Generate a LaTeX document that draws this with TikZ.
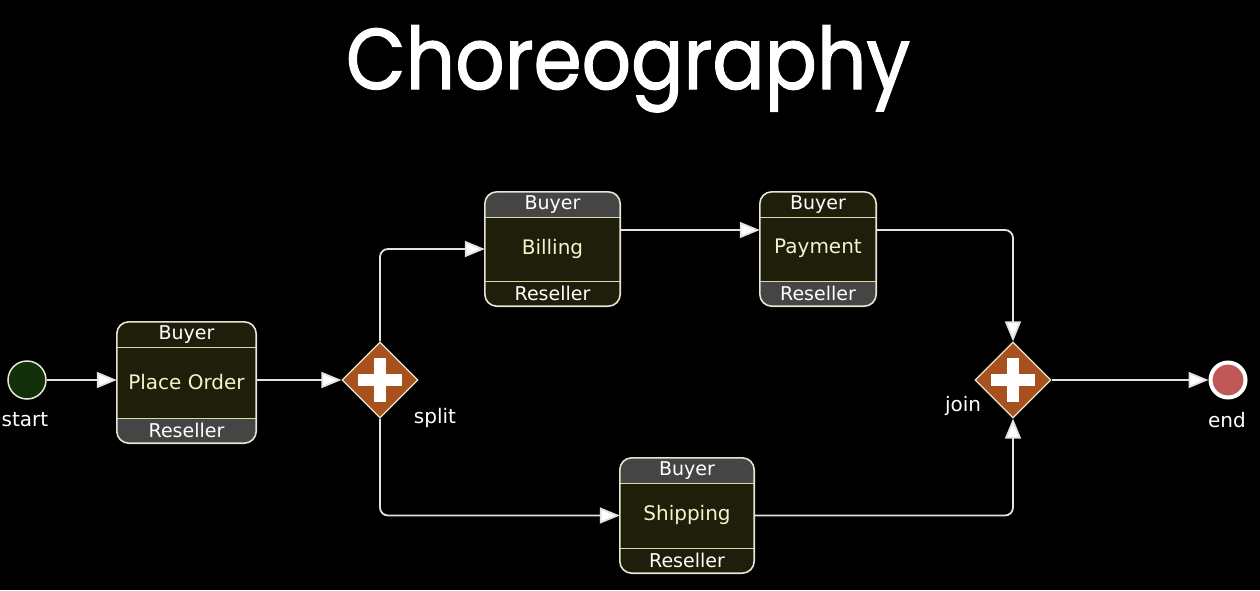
\documentclass[tikz,border=0pt]{standalone}
\usepackage{fontspec}
\setmainfont{DejaVu Sans}
\newfontfamily\titlefont{Poppins}[FakeBold=1.5]
\usetikzlibrary{arrows.meta,shapes.geometric}
\definecolor{olive}{HTML}{1E1E0A}
\definecolor{band}{HTML}{454545}
\definecolor{rim}{HTML}{E6E6D2}
\definecolor{divider}{HTML}{D8D8A8}
\definecolor{cream}{HTML}{F4F4CC}
\definecolor{gate}{HTML}{A8501E}
\definecolor{startfill}{HTML}{12300A}
\definecolor{endfill}{HTML}{C05858}
\definecolor{wire}{HTML}{E2E2E2}
\tikzset{
  taskbox/.style={draw=none, inner sep=0pt, rectangle},
  rimline/.style={draw=rim, line width=1.6pt},
  divline/.style={draw=divider, line width=1.3pt},
  partlabel/.style={font=\fontsize{19}{21}\selectfont, text=white, inner sep=0pt},
  tasklabel/.style={font=\fontsize{20}{22}\selectfont, text=cream, inner sep=0pt},
  evlabel/.style={font=\fontsize{20}{22}\selectfont, text=white, inner sep=0pt},
  gateway/.style={diamond, shape aspect=1, minimum width=76pt, minimum height=76pt, inner sep=0pt, fill=gate, draw=rim, line width=1.2pt},
  conn/.style={draw=wire, line width=1.8pt, rounded corners=8pt, -{Triangle[length=20pt,width=16pt,fill=white]}},
}
\newcommand{\ctask}[8]{%
  \node[taskbox, minimum width=#4pt, minimum height=#5pt] (#1) at (#2,#3) {};
  \fill[olive, rounded corners=12pt] (#1.south west) rectangle (#1.north east);
  \begin{scope}
    \clip[rounded corners=12pt] (#1.south west) rectangle (#1.north east);
    \fill[#6] (#1.north west) rectangle ([yshift=-26pt]#1.north east);
    \fill[#7] (#1.south west) rectangle ([yshift=25pt]#1.south east);
  \end{scope}
  \draw[divline] ([yshift=-26pt]#1.north west) -- ([yshift=-26pt]#1.north east);
  \draw[divline] ([yshift=25pt]#1.south west) -- ([yshift=25pt]#1.south east);
  \draw[rimline, rounded corners=12pt] (#1.south west) rectangle (#1.north east);
  \node[partlabel] (#1-top) at ([yshift=-13pt]#1.north) {Buyer};
  \node[partlabel] (#1-bot) at ([yshift=12.5pt]#1.south) {Reseller};
  \node[tasklabel] (#1-lab) at ([yshift=0.5pt]#1.center) {#8};
}
\newcommand{\gplus}[1]{%
  \fill[white] ([xshift=-22pt,yshift=-6pt]#1.center) rectangle ([xshift=22pt,yshift=6pt]#1.center);
  \fill[white] ([xshift=-6pt,yshift=-22pt]#1.center) rectangle ([xshift=6pt,yshift=22pt]#1.center);
}
\begin{document}
\begin{tikzpicture}[x=1pt,y=-1pt]
\useasboundingbox[fill=black] (0,0) rectangle (1260,590);

\node[font=\titlefont\fontsize{86}{90}\selectfont, text=white, anchor=base, inner sep=0pt] (title) at (628,89) {\scalebox{0.9}[1]{Choreography}};

% events
\node[circle, minimum size=38pt, inner sep=0pt, fill=startfill, draw=rim, line width=1.5pt] (start) at (27,380) {};
\node[evlabel] (startlab) at (25,420) {start};
\node[circle, minimum size=35pt, inner sep=0pt, fill=endfill, draw=white, line width=4pt] (end) at (1228,380) {};
\node[evlabel] (endlab) at (1227,420) {end};

% tasks
\ctask{po}{186.5}{382.5}{139}{121}{olive}{band}{Place Order}
\ctask{bill}{552.5}{249}{135}{114}{band}{olive}{Billing}
\ctask{pay}{818}{249}{116}{114}{olive}{band}{Payment}
\ctask{ship}{687}{515.5}{134}{115}{band}{olive}{Shipping}

% gateways
\node[gateway] (split) at (380,380) {};
\gplus{split}
\node[evlabel] (splitlab) at (435,418) {split};
\node[gateway] (join) at (1013,380) {};
\gplus{join}
\node[evlabel] (joinlab) at (963,406) {join};

% connectors
\draw[conn] (start) -- (start -| po.west);
\draw[conn] (po.east |- split) -- (split);
\draw[conn] (split.north) |- (bill.west);
\draw[conn] (split.south) |- (ship.west);
\draw[conn] ([yshift=19pt]bill.east) -- ([yshift=19pt]pay.west);
\draw[conn] ([yshift=19pt]pay.east) -| (join.north);
\draw[conn] (ship.east) -| (join.south);
\draw[conn] (join) -- (end);
\end{tikzpicture}
\end{document}
